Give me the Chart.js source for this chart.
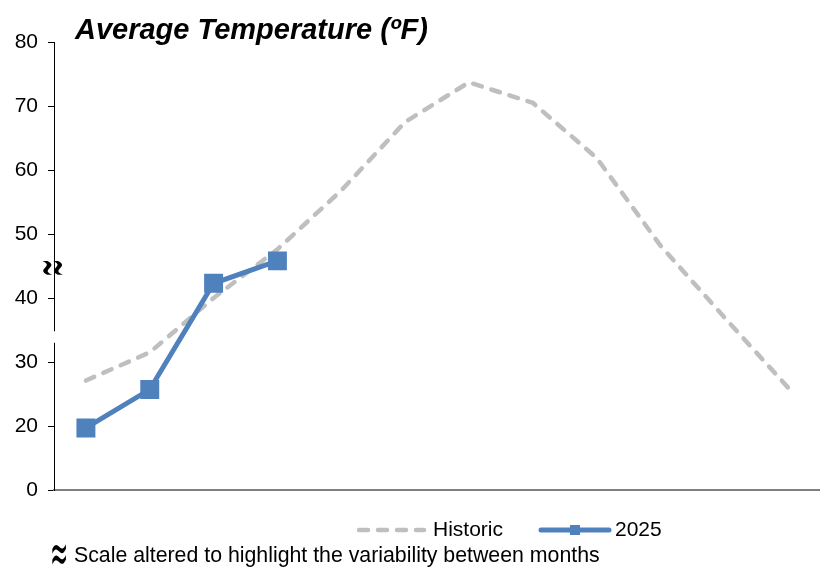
<!DOCTYPE html>
<html>
<head>
<meta charset="utf-8">
<script src="https://cdn.jsdelivr.net/npm/chart.js@4.4.1/dist/chart.umd.min.js"></script>
<style>
  html, body { margin: 0; padding: 0; background: #fff; overflow: hidden; }
  #wrap { width: 820px; height: 567px; position: relative; }
</style>
</head>
<body>
<div id="wrap"><canvas id="chart" width="820" height="567"></canvas></div>
<script>
// Months along the x axis (labels are not shown)
const months = ['Jan', 'Feb', 'Mar', 'Apr', 'May', 'Jun', 'Jul', 'Aug', 'Sep', 'Oct', 'Nov', 'Dec'];

// Long-term monthly average temperature (°F)
const historic = [27.1, 31.5, 40.0, 47.6, 56.8, 67.5, 73.7, 70.5, 61.9, 48.2, 37.0, 26.0];

// Monthly averages recorded so far in 2025 (°F)
const temps2025 = [19.7, 25.7, 42.3, 45.8];

// The axis is broken: its lowest tick sits at 10 but is labelled 0
const axisMin = 10;
const axisMax = 80;
const axisStep = 10;
const brokenTickLabel = '0';

const seriesNames = ['Historic', '2025'];
const titleText = 'Average Temperature (\u00BAF)';
const noteText = 'Scale altered to highlight the variability between months';
const breakSymbol = '\u2248';

const FONT = '"Liberation Sans", Arial, Helvetica, sans-serif';
const GREY = '#BFBFBF';
const BLUE = '#4F81BD';

// draws the "approximately" break symbol, stretched to a taller shape
function drawBreakSymbol(ctx, x, y, angle) {
  ctx.save();
  ctx.translate(x, y);
  ctx.rotate(angle);
  ctx.scale(0.66, 1.7);
  ctx.font = '33px "DejaVu Sans", sans-serif';
  ctx.textAlign = 'center';
  ctx.textBaseline = 'middle';
  ctx.fillStyle = '#000';
  ctx.fillText(breakSymbol, 0, 0);
  ctx.restore();
}

const decorations = {
  id: 'decorations',
  afterDraw(chart) {
    const { ctx, chartArea, scales } = chart;
    const yScale = scales.y;
    ctx.save();

    // gap in the y axis line marking the break
    const gapTop = yScale.getPixelForValue(34.8);
    const gapBottom = yScale.getPixelForValue(33.0);
    ctx.fillStyle = '#fff';
    ctx.fillRect(chartArea.left - 2, gapTop, 4, gapBottom - gapTop);

    // break symbol beside the axis
    drawBreakSymbol(ctx, chartArea.left - 4.5, yScale.getPixelForValue(44.7), Math.PI / 2);

    // title
    ctx.fillStyle = '#000';
    ctx.font = 'italic bold 29px ' + FONT;
    ctx.textAlign = 'left';
    ctx.textBaseline = 'alphabetic';
    ctx.fillText(titleText, 75, 39);

    // legend
    const ly = 530;
    ctx.lineCap = 'round';
    ctx.strokeStyle = GREY;
    ctx.lineWidth = 4.5;
    ctx.setLineDash([9, 10]);
    ctx.beginPath();
    ctx.moveTo(359, ly);
    ctx.lineTo(424, ly);
    ctx.stroke();
    ctx.setLineDash([]);

    ctx.strokeStyle = BLUE;
    ctx.lineWidth = 5;
    ctx.beginPath();
    ctx.moveTo(541, ly);
    ctx.lineTo(609, ly);
    ctx.stroke();
    ctx.fillStyle = BLUE;
    ctx.fillRect(570, ly - 5, 10, 10);

    ctx.fillStyle = '#000';
    ctx.font = '21px ' + FONT;
    ctx.textBaseline = 'middle';
    ctx.fillText(seriesNames[0], 433, ly);
    ctx.fillText(seriesNames[1], 615, ly);

    // footnote
    drawBreakSymbol(ctx, 59, 557, 0);
    ctx.fillStyle = '#000';
    ctx.font = '21.3px ' + FONT;
    ctx.textAlign = 'left';
    ctx.textBaseline = 'middle';
    ctx.fillText(noteText, 74, 556);

    ctx.restore();
  }
};

new Chart(document.getElementById('chart'), {
  type: 'line',
  data: {
    labels: months,
    datasets: [
      {
        label: seriesNames[0],
        data: historic,
        order: 2,
        borderColor: GREY,
        borderWidth: 4.5,
        borderDash: [9, 10],
        borderCapStyle: 'round',
        tension: 0,
        pointRadius: 0,
        pointHoverRadius: 0
      },
      {
        label: seriesNames[1],
        data: temps2025,
        order: 1,
        borderColor: BLUE,
        borderWidth: 5,
        tension: 0,
        pointStyle: 'rect',
        pointRadius: 13.4,
        pointHoverRadius: 13.4,
        pointBackgroundColor: BLUE,
        pointBorderColor: BLUE,
        pointBorderWidth: 0
      }
    ]
  },
  options: {
    responsive: false,
    animation: false,
    devicePixelRatio: 1,
    layout: { autoPadding: false, padding: { top: 42, bottom: 77, left: 0, right: 0 } },
    plugins: {
      legend: { display: false },
      title: { display: false },
      tooltip: { enabled: false }
    },
    scales: {
      x: {
        type: 'category',
        offset: true,
        ticks: { display: false },
        grid: { display: false },
        border: { display: true, color: '#7F7F7F', width: 2 },
        afterFit(scale) { scale.height = 0; }
      },
      y: {
        min: axisMin,
        max: axisMax,
        ticks: {
          stepSize: axisStep,
          padding: 10,
          color: '#000',
          font: { family: FONT, size: 21 },
          callback: (v) => (v === axisMin ? brokenTickLabel : String(v))
        },
        grid: {
          display: true,
          drawOnChartArea: false,
          drawTicks: true,
          tickLength: 6,
          color: '#000',
          lineWidth: 1
        },
        border: { display: true, color: '#000', width: 1 },
        afterFit(scale) { scale.width = 54; }
      }
    }
  },
  plugins: [decorations]
});
</script>
</body>
</html>
